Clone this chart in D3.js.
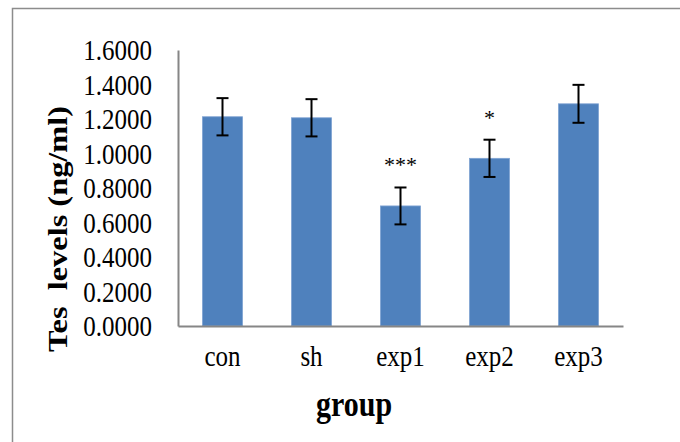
<!DOCTYPE html>
<html>
<head>
<meta charset="utf-8">
<script src="https://cdn.jsdelivr.net/npm/d3@7"></script>
<style>
  body { margin: 0; background: #fff; }
  svg text { font-family: "Liberation Serif", "Times New Roman", serif; fill: #000; }
</style>
</head>
<body>
<div id="chart"></div>
<script>
const groups = ["con", "sh", "exp1", "exp2", "exp3"];
const means = [1.213, 1.207, 0.696, 0.972, 1.288];
const errors = [0.108, 0.108, 0.107, 0.108, 0.110];
const marks = ["", "", "***", "*", ""];
const yTicks = [0, 0.2, 0.4, 0.6, 0.8, 1.0, 1.2, 1.4, 1.6];

const W = 680, H = 442;
const margin = {top: 50, left: 178, right: 57, bottom: 116};
const stretch = 1.2; // the source text is drawn a little taller than wide

const rows = groups.map((g, i) => ({group: g, mean: means[i], err: errors[i], mark: marks[i]}));

const svg = d3.select("#chart").append("svg")
    .attr("width", W)
    .attr("height", H);

// outer frame (only top and left edges are visible)
svg.append("rect")
    .attr("x", 12.5).attr("y", 8.5)
    .attr("width", 720).attr("height", 500)
    .attr("fill", "none")
    .attr("stroke", "#8c8c8c")
    .attr("stroke-width", 1.5);

const x = d3.scaleBand()
    .domain(groups)
    .range([margin.left, W - margin.right])
    .paddingInner(0.55)
    .paddingOuter(0.275);

const y = d3.scaleLinear()
    .domain([0, 1.6])
    .range([H - margin.bottom, margin.top]);

// bars
svg.append("g").selectAll("rect")
    .data(rows)
    .enter().append("rect")
    .attr("x", d => x(d.group))
    .attr("y", d => y(d.mean))
    .attr("width", x.bandwidth())
    .attr("height", d => y(0) - y(d.mean))
    .attr("fill", "#4f81bd")
    .attr("stroke", "#7fa3d3")
    .attr("stroke-width", 0.8);

// error bars
const eb = svg.append("g")
    .attr("stroke", "#000")
    .attr("stroke-width", 2);
rows.forEach(d => {
  const cx = x(d.group) + x.bandwidth() / 2;
  eb.append("line")
      .attr("x1", cx).attr("x2", cx)
      .attr("y1", y(d.mean + d.err)).attr("y2", y(d.mean - d.err));
  [d.mean + d.err, d.mean - d.err].forEach(v => {
    eb.append("line")
        .attr("x1", cx - 6).attr("x2", cx + 6)
        .attr("y1", y(v)).attr("y2", y(v));
  });
});

// significance marks
svg.append("g").selectAll("text")
    .data(rows.filter(d => d.mark))
    .enter().append("text")
    .attr("x", d => x(d.group) + x.bandwidth() / 2)
    .attr("y", d => y(d.mean + d.err) - 26 + 11)
    .attr("text-anchor", "middle")
    .style("font-size", "22px")
    .text(d => d.mark);

// y axis
const yAxis = d3.axisLeft(y)
    .tickValues(yTicks)
    .tickSize(0)
    .tickPadding(26)
    .tickFormat(d3.format(".4f"));
const gy = svg.append("g")
    .attr("transform", "translate(" + margin.left + ",0)")
    .call(yAxis);
gy.select(".domain").attr("stroke", "#868686").attr("stroke-width", 2);
gy.selectAll("text")
    .style("font-size", "25px")
    .attr("dy", "0.33em")
    .attr("transform", "scale(1," + stretch + ")");

// x axis
const xAxis = d3.axisBottom(x).tickSize(0);
const gx = svg.append("g")
    .attr("transform", "translate(0," + y(0) + ")")
    .call(xAxis);
gx.select(".domain").attr("stroke", "#868686").attr("stroke-width", 2);
gx.selectAll("text")
    .style("font-size", "25px")
    .attr("y", 40 / stretch)
    .attr("dy", 0)
    .attr("transform", "scale(1," + stretch + ")");

// axis titles
svg.append("text")
    .attr("transform", "translate(354,416) scale(1," + stretch + ")")
    .attr("text-anchor", "middle")
    .style("font-size", "30px")
    .style("font-weight", "bold")
    .text("group");

svg.append("text")
    .attr("transform", "translate(67,229) rotate(-90) scale(" + stretch + ",1)")
    .attr("text-anchor", "middle")
    .style("font-size", "27px")
    .style("font-weight", "bold")
    .style("white-space", "pre")
    .text("Tes  levels (ng/ml)");
</script>
</body>
</html>
